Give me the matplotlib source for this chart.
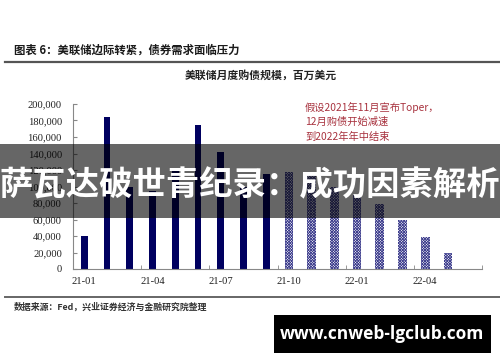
import matplotlib
matplotlib.use('Agg')
import matplotlib.pyplot as plt
import numpy as np

plt.rcParams['font.family'] = ['Noto Sans CJK SC', 'DejaVu Sans']
plt.rcParams['hatch.linewidth'] = 0.6

# ── Data ───────────────────────────────────────────────────────────────────
MONTHS = ['21-01', '21-02', '21-03', '21-04', '21-05', '21-06', '21-07', '21-08', '21-09',
          '21-10', '21-11', '21-12', '22-01', '22-02', '22-03', '22-04', '22-05', '22-06']
ACTUAL = [40000, 184000, 100000, 95000, 123000, 174000, 142000, 100000, 115000]
PLANNED = [118000, 118000, 100000, 90000, 79000, 59000, 39000, 20000]
TICK_LABELS = ['21-01', '21-04', '21-07', '21-10', '22-01', '22-04']
Y_TICKS = [0, 20000, 40000, 60000, 80000, 100000, 120000, 140000, 160000, 180000, 200000]

W, H = 500, 362
fig = plt.figure(figsize=(W / 100, H / 100), dpi=100)
fig.patch.set_facecolor('white')


def px(x, y):
    # pixel coords (top-left origin) -> figure fraction
    return x / W, 1 - y / H


# ── Header / footer ────────────────────────────────────────────────────────
fig.text(*px(14, 50), '图表 6：美联储边际转紧，债券需求面临压力', fontsize=8.2,
         fontweight='bold', color='#1a1a1a', va='center', ha='left')
fig.add_artist(plt.Line2D([5 / W, 1], [1 - 62 / H] * 2, color='#555555', lw=1.6))
fig.text(*px(261, 75), '美联储月度购债规模，百万美元', fontsize=7.8, fontweight='bold',
         color='#222222', va='center', ha='center')

fig.add_artist(plt.Line2D([5 / W, 1], [1 - 297 / H] * 2, color='#666666', lw=1.4))
fig.text(*px(14, 307), '数据来源：Fed，兴业证券经济与金融研究院整理', fontsize=6.4,
         fontweight='bold', color='#333333', va='center', ha='left')

# ── Bars ───────────────────────────────────────────────────────────────────
ax = fig.add_axes([73 / W, (H - 269) / H, 409 / W, 165 / H])
x = np.arange(len(MONTHS))
n_act = len(ACTUAL)
ax.bar(x[:n_act], ACTUAL, width=0.3, color='#000060', zorder=2)
ax.bar(x[n_act:n_act + len(PLANNED)], PLANNED, width=0.38, facecolor='white',
       edgecolor='#3c3c8c', hatch='x' * 12, lw=0, zorder=2)

ax.set_xlim(-0.5, len(MONTHS) - 0.5)
ax.set_ylim(0, 200000)
ax.set_yticks(Y_TICKS)
ax.set_yticklabels([f'{v:,}' for v in Y_TICKS], family='Liberation Serif', fontsize=7.6,
                   color='#222222')
ax.set_xticks([MONTHS.index(t) for t in TICK_LABELS])
ax.set_xticklabels(TICK_LABELS, family='Liberation Serif', fontsize=7.6, color='#222222')
ax.tick_params(axis='x', length=0, pad=6)
ax.set_xticks(np.arange(-0.5, len(MONTHS), 3), minor=True)
ax.tick_params(axis='x', which='minor', direction='in', length=3, color='#888888')
ax.tick_params(axis='y', direction='in', length=3, color='#888888', pad=8)
for s in ['top', 'right']:
    ax.spines[s].set_visible(False)
for s in ['left', 'bottom']:
    ax.spines[s].set_color('#888888')
    ax.spines[s].set_linewidth(0.8)

# ── Annotation ─────────────────────────────────────────────────────────────
note = ['假设2021年11月宣布Toper，', '12月购债开始减速', '到2022年年中结束']
for i, line in enumerate(note):
    fig.text(*px(305, 107 + 15 * i), line, fontsize=7.4, style='italic', color='#a8323e',
             va='center', ha='left')

# ── Overlay banner and watermark ───────────────────────────────────────────
fig.add_artist(plt.Rectangle((0, 1 - 218 / H), 1, 74 / H, transform=fig.transFigure,
                             facecolor='black', alpha=0.6, lw=0, zorder=10))
fig.text(*px(250, 186), '萨瓦达破世青纪录：成功因素解析', fontsize=24, fontweight='bold',
         color='white', va='center', ha='center', zorder=11)

fig.add_artist(plt.Rectangle((274 / W, 1 - 353 / H), 217 / W, 38 / H, transform=fig.transFigure,
                             facecolor='black', lw=0, zorder=10))
fig.text(*px(382, 334), 'www.cnweb-lgclub.com', fontsize=12.5, fontweight='bold',
         family=['Open Sans', 'DejaVu Sans'], color='white', va='center', ha='center', zorder=11)

fig.savefig('out.png', dpi=100, facecolor='white')
